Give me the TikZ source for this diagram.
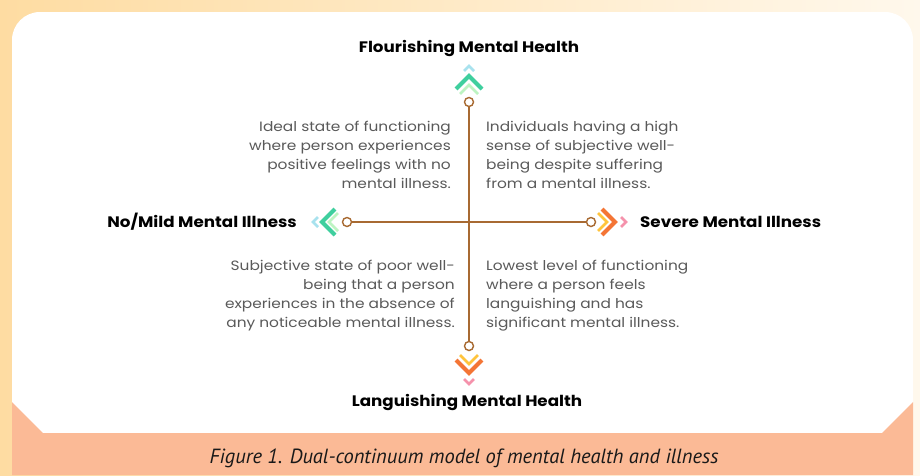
\documentclass[tikz,border=0pt]{standalone}
\usepackage{fontspec}
\setmainfont{Poppins}[FakeStretch=1.14]
\newfontfamily\headfont{Poppins}[FakeStretch=1.1]
\newfontfamily\capfont{PT Sans}
\begin{document}
\definecolor{peachL}{HTML}{FEDCA2}
\definecolor{peachR}{HTML}{FFF8EC}
\definecolor{salmon}{HTML}{FBBA96}
\definecolor{axisbrown}{HTML}{A86A32}
\definecolor{bodygray}{HTML}{5A5A5A}
\definecolor{chgreen}{HTML}{3FCF9E}
\definecolor{chcyan}{HTML}{A8E2EE}
\definecolor{chlime}{HTML}{BDF4C2}
\definecolor{chorange}{HTML}{F47535}
\definecolor{chyellow}{HTML}{FFC43C}
\definecolor{chpink}{HTML}{F592AC}
\begin{tikzpicture}[x=1pt,y=-1pt,
  heading/.style={font=\headfont\fontsize{15.2}{17}\selectfont\bfseries, text=black, inner sep=0pt},
  body/.style={font=\fontsize{13.5}{19}\selectfont, text=bodygray, inner sep=0pt},
  endcircle/.style={circle, draw=axisbrown, fill=white, line width=1.4pt, minimum size=9pt, inner sep=0pt},
  axis/.style={draw=axisbrown, line width=1.8pt},
  chev/.style={line width=4.2pt, line cap=butt, line join=miter},
  chevthin/.style={line width=2.8pt, line cap=butt, line join=miter}]
\useasboundingbox (0,0) rectangle (920,475);
% page background
\shade[left color=peachL, right color=peachR] (0,0) rectangle (920,475);
% white card
\fill[white, rounded corners=28pt] (12,12) -- (913,12) -- (913,440) -- (12,440) -- cycle;
% caption band with chamfered top corners
\fill[salmon] (12,402) -- (43,433) -- (882,433) -- (913,402) -- (913,475) -- (12,475) -- cycle;
\node[font=\capfont\itshape\fontsize{20.5}{24}\selectfont, text=black!90] (cap) at (464,458) {Figure 1. Dual-continuum model of mental health and illness};

% axis end points
\node[endcircle] (ct) at (469,102) {};
\node[endcircle] (cb) at (469,346) {};
\node[endcircle] (cl) at (347,222) {};
\node[endcircle] (cr) at (591,222) {};
\draw[axis] (ct) -- (cb);
\draw[axis] (cl) -- (cr);

% upward chevrons
\draw[chevthin, chcyan] (464,71) -- (469,66) -- (474,71);
\draw[chev, chgreen] (456,89) -- (469,76) -- (482,89);
\draw[chevthin, chlime] (460,94) -- (469,85) -- (478,94);
% downward chevrons
\draw[chevthin, chyellow] (460,355) -- (469,364) -- (478,355);
\draw[chev, chorange] (456,360) -- (469,373) -- (482,360);
\draw[chevthin, chpink] (464,379) -- (469,384) -- (474,379);
% leftward chevrons
\draw[chevthin, chcyan] (318,217) -- (313,222) -- (318,227);
\draw[chev, chgreen] (335,209) -- (322,222) -- (335,235);
\draw[chevthin, chlime] (338,213) -- (329,222) -- (338,231);
% rightward chevrons
\draw[chevthin, chyellow] (598,213) -- (607,222) -- (598,231);
\draw[chev, chorange] (602,209) -- (615,222) -- (602,235);
\draw[chevthin, chpink] (621,217) -- (626,222) -- (621,227);

% pole labels
\node[heading] (top) at (469,48) {Flourishing Mental Health};
\node[heading] (bottom) at (467,402) {Languishing Mental Health};
\node[heading, anchor=east] (left) at (297,222) {No/Mild Mental Illness};
\node[heading, anchor=west] (right) at (640,222) {Severe Mental Illness};

% quadrant descriptions
\node[body, align=right, anchor=north east] (qtl) at (451,121) {Ideal state of functioning\\where person experiences\\positive feelings with no\\mental illness.};
\node[body, align=left, anchor=north west] (qtr) at (486,121) {Individuals having a high\\sense of subjective well-\\being despite suffering\\from a mental illness.};
\node[body, align=right, anchor=north east] (qbl) at (455,260) {Subjective state of poor well-\\being that a person\\experiences in the absence of\\any noticeable mental illness.};
\node[body, align=left, anchor=north west] (qbr) at (486,260) {Lowest level of functioning\\where a person feels\\languishing and has\\significant mental illness.};
\end{tikzpicture}
\end{document}
